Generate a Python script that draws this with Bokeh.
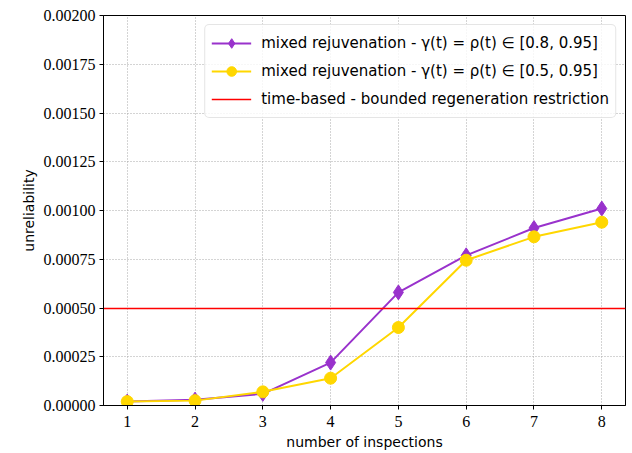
from bokeh.plotting import figure
from bokeh.models import (Range1d, FixedTicker, PrintfTickFormatter,
                          Legend, LegendItem)
from bokeh.embed import file_html
from bokeh.resources import INLINE

inspections = [1, 2, 3, 4, 5, 6, 7, 8]
mixed_08 = [0.00002, 0.00003, 0.00006, 0.00022, 0.00058, 0.00077, 0.00091, 0.00101]
mixed_05 = [0.00002, 0.000025, 0.00007, 0.00014, 0.00040, 0.000745, 0.000865, 0.00094]
time_based = [0.0005]
y_ticks = [0.0, 0.00025, 0.0005, 0.00075, 0.001, 0.00125, 0.0015, 0.00175, 0.002]
labels = [
    "mixed rejuvenation - γ(t) = ρ(t) ∈ [0.8, 0.95]",
    "mixed rejuvenation - γ(t) = ρ(t) ∈ [0.5, 0.95]",
    "time-based - bounded regeneration restriction",
]

SERIF = "Liberation Serif"
SANS = "DejaVu Sans"

p = figure(width=632, height=453, output_backend="svg", toolbar_location=None,
           x_range=Range1d(0.65, 8.35), y_range=Range1d(0, 0.002),
           min_border_left=103, min_border_right=7, min_border_top=15,
           min_border_bottom=48)

p.outline_line_color = "black"
p.outline_line_width = 1
p.background_fill_color = "white"
p.border_fill_color = "white"

for g in (p.xgrid, p.ygrid):
    g.grid_line_color = "#a8a8a8"
    g.grid_line_dash = "1 2"
    g.grid_line_width = 1

p.xaxis.ticker = FixedTicker(ticks=inspections)
p.yaxis.ticker = FixedTicker(ticks=y_ticks)
p.yaxis.formatter = PrintfTickFormatter(format="%.5f")
for ax in (p.xaxis, p.yaxis):
    ax.major_tick_in = 0
    ax.major_tick_out = 4
    ax.minor_tick_line_color = None
    ax.axis_line_color = "black"
    ax.major_tick_line_color = "black"
    ax.major_label_text_font = SERIF
    ax.major_label_text_font_size = "16px"
    ax.major_label_text_color = "black"
    ax.axis_label_text_font = SANS
    ax.axis_label_text_font_size = "14px"
    ax.axis_label_text_font_style = "normal"
    ax.axis_label_text_color = "black"
p.xaxis.axis_label = "number of inspections"
p.yaxis.axis_label = "unreliability"
p.xaxis.major_label_standoff = 6
p.yaxis.major_label_standoff = 4
p.xaxis.axis_label_standoff = 4
p.yaxis.axis_label_standoff = 4

r1 = p.line(inspections, mixed_08, color="#9932CC", line_width=2)
m1 = p.scatter(inspections, mixed_08, marker="diamond", size=15, color="#9932CC")
r2 = p.line(inspections, mixed_05, color="#FFD700", line_width=2)
m2 = p.scatter(inspections, mixed_05, marker="circle", size=12, color="#FFD700")
r3 = p.hspan(y=time_based, line_color="red", line_width=1.5)

legend = Legend(items=[
    LegendItem(label=labels[0], renderers=[r1, m1]),
    LegendItem(label=labels[1], renderers=[r2, m2]),
    LegendItem(label=labels[2], renderers=[r3]),
], location="top_right")
legend.label_text_font = SANS
legend.label_text_font_size = "15px"
legend.label_text_color = "black"
legend.border_line_color = "#cccccc"
legend.border_line_width = 1
legend.border_radius = 5
legend.background_fill_alpha = 0.8
legend.margin = 9
legend.padding = 6
legend.spacing = 4
legend.label_height = 24
legend.glyph_height = 24
legend.glyph_width = 40
legend.label_standoff = 10
p.add_layout(legend)

open("out.html", "w").write(file_html(p, INLINE))
